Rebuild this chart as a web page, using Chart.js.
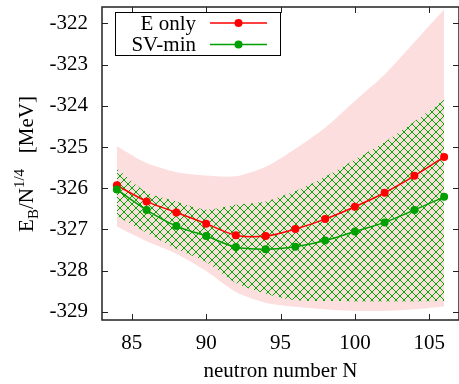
<!DOCTYPE html>
<html>
<head>
<meta charset="utf-8">
<script src="https://cdn.jsdelivr.net/npm/chart.js@4"></script>
<style>
  html, body { margin: 0; padding: 0; background: #fff; }
  #wrap { width: 459px; height: 384px; }
</style>
</head>
<body>
<div id="wrap"><canvas id="energyChart" width="459" height="384"></canvas></div>
<script>
// neutron numbers and values
const neutrons = [84, 86, 88, 90, 92, 94, 96, 98, 100, 102, 104, 106];
const eOnly = [-325.93, -326.32, -326.59, -326.86, -327.14, -327.16, -326.99, -326.75, -326.45, -326.11, -325.70, -325.24];
const svMin = [-326.03, -326.53, -326.92, -327.16, -327.43, -327.48, -327.42, -327.27, -327.05, -326.83, -326.53, -326.21];
const eOnlyUpper = [-324.98, -325.39, -325.61, -325.69, -325.71, -325.48, -325.04, -324.53, -323.88, -323.24, -322.45, -321.66];
const eOnlyLower = [-326.93, -327.29, -327.59, -328.01, -328.52, -328.78, -328.88, -328.94, -328.98, -328.98, -328.94, -328.87];
const svMinUpper = [-325.52, -326.10, -326.32, -326.52, -326.40, -326.32, -326.07, -325.72, -325.30, -324.88, -324.38, -323.85];
const svMinLower = [-326.68, -327.08, -327.47, -327.79, -328.30, -328.56, -328.72, -328.74, -328.75, -328.75, -328.75, -328.74];
const xTicks = [85, 90, 95, 100, 105];
const yTicks = [-329, -328, -327, -326, -325, -324, -323, -322];

const RED = '#ff0000';
const GREEN = '#00a000';
const PINK = 'rgb(253,222,222)';
const FONT = 'Liberation Serif';

function pts(ys) {
    return neutrons.map((n, i) => ({ x: n, y: ys[i] }));
}

// crosshatch for the SV-min band
function makeHatch() {
    const c = document.createElement('canvas');
    c.width = 8; c.height = 8;
    const g = c.getContext('2d');
    g.strokeStyle = '#00a800';
    g.lineWidth = 1;
    g.beginPath();
    g.moveTo(0, 0); g.lineTo(8, 8);
    g.moveTo(8, 0); g.lineTo(0, 8);
    g.stroke();
    return g.createPattern(c, 'repeat');
}

const frame = {
    id: 'frame',
    afterDraw(chart) {
        const { ctx, chartArea: a, scales } = chart;
        ctx.save();
        ctx.strokeStyle = '#222';
        ctx.lineWidth = 1.5;
        ctx.strokeRect(a.left, a.top, a.right - a.left, a.bottom - a.top);
        ctx.lineWidth = 1;
        ctx.beginPath();
        xTicks.forEach(v => {
            const x = Math.round(scales.x.getPixelForValue(v)) + 0.5;
            ctx.moveTo(x, a.bottom); ctx.lineTo(x, a.bottom - 6);
            ctx.moveTo(x, a.top); ctx.lineTo(x, a.top + 6);
        });
        yTicks.forEach(v => {
            const y = Math.round(scales.y.getPixelForValue(v)) + 0.5;
            ctx.moveTo(a.left, y); ctx.lineTo(a.left + 6, y);
            ctx.moveTo(a.right, y); ctx.lineTo(a.right - 6, y);
        });
        ctx.stroke();

        // legend
        ctx.fillStyle = '#fff';
        ctx.fillRect(115.5, 12.5, 165, 43);
        ctx.strokeStyle = '#000';
        ctx.strokeRect(115.5, 12.5, 165, 43);
        ctx.font = '21px "' + FONT + '"';
        ctx.textAlign = 'right';
        ctx.textBaseline = 'middle';
        [['E only', RED, 23], ['SV-min', GREEN, 44.5]].forEach(([label, col, y]) => {
            ctx.fillStyle = '#000';
            ctx.fillText(label, 196, y + 1);
            ctx.strokeStyle = col;
            ctx.lineWidth = 1.5;
            ctx.beginPath();
            ctx.moveTo(210, y); ctx.lineTo(267, y);
            ctx.stroke();
            ctx.fillStyle = col;
            ctx.beginPath();
            ctx.arc(238.5, y, 4, 0, Math.PI * 2);
            ctx.fill();
        });

        // y title with sub/superscripts
        ctx.translate(26, 164);
        ctx.rotate(-Math.PI / 2);
        ctx.fillStyle = '#000';
        ctx.textAlign = 'left';
        ctx.textBaseline = 'alphabetic';
        const parts = [
            ['E', 21, 0], ['B', 15, 5], ['/N', 21, 0], ['1/4', 15, -9], ['   [MeV]', 21, 0]
        ];
        let total = 0;
        parts.forEach(p => { ctx.font = p[1] + 'px "' + FONT + '"'; total += ctx.measureText(p[0]).width; });
        let x = -total / 2;
        parts.forEach(p => {
            ctx.font = p[1] + 'px "' + FONT + '"';
            ctx.fillText(p[0], x, 7 + p[2]);
            x += ctx.measureText(p[0]).width;
        });
        ctx.restore();
    }
};

const ctx = document.getElementById('energyChart').getContext('2d');
const hatch = makeHatch();

new Chart(ctx, {
    type: 'line',
    data: {
        datasets: [
            { data: pts(eOnlyLower), borderWidth: 0, pointRadius: 0, fill: false, order: 6, tension: 0.25 },
            { data: pts(eOnlyUpper), borderWidth: 0, pointRadius: 0, fill: '-1', backgroundColor: PINK, order: 5, tension: 0.25 },
            { data: pts(svMinLower), borderWidth: 0, pointRadius: 0, fill: false, order: 4, tension: 0.25 },
            { data: pts(svMinUpper), borderWidth: 0, pointRadius: 0, fill: '-1', backgroundColor: hatch, order: 3, tension: 0.25 },
            {
                label: 'E only', data: pts(eOnly), borderColor: RED, backgroundColor: RED,
                borderWidth: 1.5, pointRadius: 4, pointBorderWidth: 0, fill: false, order: 2, tension: 0.35
            },
            {
                label: 'SV-min', data: pts(svMin), borderColor: GREEN, backgroundColor: GREEN,
                borderWidth: 1.5, pointRadius: 4, pointBorderWidth: 0, fill: false, order: 1, tension: 0.35
            }
        ]
    },
    options: {
        responsive: false,
        animation: false,
        devicePixelRatio: 1,
        layout: { autoPadding: false, padding: { top: 7, right: 0, left: 0, bottom: 0 } },
        plugins: {
            legend: { display: false },
            tooltip: { enabled: false },
            title: { display: false }
        },
        scales: {
            x: {
                type: 'linear',
                min: 83,
                max: 107,
                grid: { display: false, drawTicks: false },
                border: { display: false },
                afterBuildTicks: s => { s.ticks = xTicks.map(v => ({ value: v })); },
                afterFit: s => { s.height = 64; s.paddingLeft = 0; s.paddingRight = 0; },
                ticks: { color: '#000', padding: 11, maxRotation: 0, font: { family: FONT, size: 21 } },
                title: {
                    display: true, text: 'neutron number N', color: '#000',
                    padding: { top: 0, bottom: 0 }, font: { family: FONT, size: 21 }
                }
            },
            y: {
                min: -329.2,
                max: -321.6,
                grid: { display: false, drawTicks: false },
                border: { display: false },
                afterBuildTicks: s => { s.ticks = yTicks.map(v => ({ value: v })); },
                afterFit: s => { s.width = 102; s.paddingTop = 0; s.paddingBottom = 0; },
                ticks: { color: '#000', padding: 14, font: { family: FONT, size: 21 } }
            }
        }
    },
    plugins: [frame]
});
</script>
</body>
</html>
